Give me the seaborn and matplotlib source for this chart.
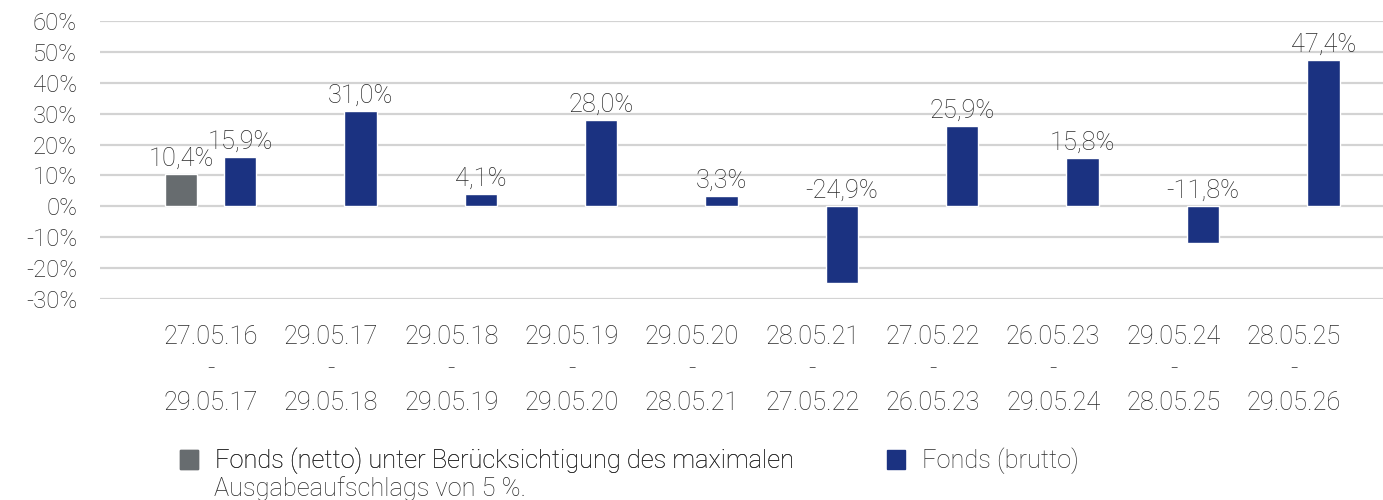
import pandas as pd
import seaborn as sns
import matplotlib.pyplot as plt
from matplotlib.patches import Patch

# === Data ===
periods = [
    "27.05.16\n-\n29.05.17", "29.05.17\n-\n29.05.18", "29.05.18\n-\n29.05.19",
    "29.05.19\n-\n29.05.20", "29.05.20\n-\n28.05.21", "28.05.21\n-\n27.05.22",
    "27.05.22\n-\n26.05.23", "26.05.23\n-\n29.05.24", "29.05.24\n-\n28.05.25",
    "28.05.25\n-\n29.05.26",
]
netto = [10.4, None, None, None, None, None, None, None, None, None]
brutto = [15.9, 31.0, 4.1, 28.0, 3.3, -24.9, 25.9, 15.8, -11.8, 47.4]
series_names = ["Fonds (netto)", "Fonds (brutto)"]
legend_texts = ["Fonds (netto) unter Berücksichtigung des maximalen",
                "Ausgabeaufschlags von 5 %.",
                "Fonds (brutto)"]
yticks = [-30, -20, -10, 0, 10, 20, 30, 40, 50, 60]

colors = ["#676c6f", "#1b3281"]

df = pd.DataFrame({
    "period": periods * 2,
    "series": [series_names[0]] * len(periods) + [series_names[1]] * len(periods),
    "value": netto + brutto,
})

# === Plot ===
sns.set_style("white")
plt.rcParams['font.family'] = ['Roboto', 'DejaVu Sans']
plt.rcParams['font.weight'] = 'light'
text_col = "#2a2a2a"

fig = plt.figure(figsize=(13.83, 5), dpi=100)
ax = fig.add_axes([100 / 1383, 1 - 299 / 500, 1 - 100 / 1383, (299 - 21) / 500])

sns.barplot(data=df, x="period", y="value", hue="series", palette=colors,
            saturation=1, width=0.98, gap=0.45, legend=False, ax=ax, zorder=3)

ax.set_ylim(-30, 60)
ax.set_yticks(yticks)
ax.set_yticklabels([f"{v}%" for v in yticks])
ax.set_xlim(-0.918, 9.74)
ax.grid(axis="y", color="#d3d3d3", linewidth=1.6, zorder=0)
ax.set_axisbelow(True)
for s in ax.spines.values():
    s.set_visible(False)
ax.set_xlabel("")
ax.set_ylabel("")
ax.tick_params(axis="y", length=0, pad=16.5, labelsize=17.2, labelcolor=text_col)
ax.tick_params(axis="x", length=0, pad=18.5, labelsize=18.3, labelcolor=text_col)
for lbl in ax.get_xticklabels():
    lbl.set_linespacing(1.47)

# value labels
for cont in ax.containers:
    for p in cont.patches:
        h = p.get_height()
        if pd.isna(h):
            continue
        ax.text(p.get_x() + p.get_width() / 2, max(h, 0) + 1.0,
                f"{h:.1f}%".replace(".", ","), ha="center", va="bottom",
                fontsize=18.3, color=text_col)

# legend (two entries placed separately, netto label wraps to a second line)
leg_prop = {"family": ["Roboto", "DejaVu Sans"], "weight": "light", "size": 18.3}
leg_kw = dict(loc="center left", frameon=False, prop=leg_prop, labelcolor=text_col,
              handlelength=0.72, handleheight=0.72, handletextpad=0.65,
              borderpad=0, borderaxespad=0)
leg1 = fig.legend([Patch(facecolor=colors[0], edgecolor=colors[0])], [legend_texts[0]],
                  bbox_to_anchor=(180 / 1383, 1 - 461 / 500), **leg_kw)
fig.add_artist(leg1)
fig.legend([Patch(facecolor=colors[1], edgecolor=colors[1])], [legend_texts[2]],
           bbox_to_anchor=(887 / 1383, 1 - 461 / 500), **leg_kw)
fig.text(214 / 1383, 1 - 489 / 500, legend_texts[1], ha="left", va="center",
         fontproperties=leg_prop, color=text_col)

fig.savefig("out.png", dpi=100)
